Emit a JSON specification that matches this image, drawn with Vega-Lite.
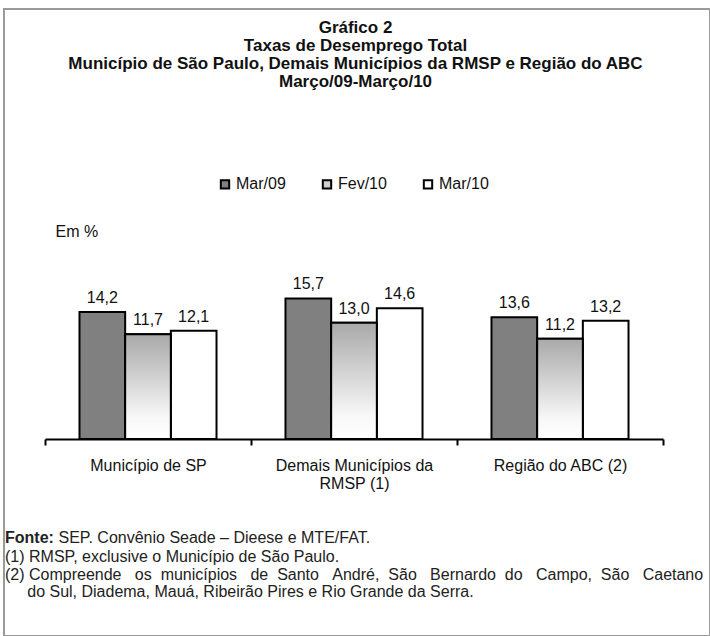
{
  "$schema": "https://vega.github.io/schema/vega-lite/v6.json",
  "width": 706,
  "height": 627,
  "autosize": "none",
  "padding": {"left": 4, "top": 9, "right": 0, "bottom": 0},
  "background": "white",
  "config": {
    "font": "Liberation Sans",
    "view": {"stroke": "#9a9a9a", "strokeWidth": 2},
    "locale": {"number": {"decimal": ",", "thousands": ".", "grouping": [3], "currency": ["R$", ""]}}
  },
  "title": {
    "text": ["Fonte:"],
    "subtitle": [
      "(1) RMSP, exclusive o Município de São Paulo.",
      "(2) Compreende \u00a0\u00a0os \u00a0municípios \u00a0\u00a0de \u00a0Santo \u00a0\u00a0André, \u00a0São \u00a0\u00a0Bernardo \u00a0do \u00a0\u00a0Campo, \u00a0São \u00a0\u00a0Caetano",
      "\u200b\u00a0\u00a0\u00a0\u00a0\u00a0do Sul, Diadema, Mauá, Ribeirão Pires e Rio Grande da Serra."
    ],
    "orient": "bottom",
    "anchor": "start",
    "frame": "group",
    "offset": -106,
    "dx": 1,
    "font": "Liberation Sans",
    "fontSize": 16,
    "fontWeight": "bold",
    "color": "#222222",
    "lineHeight": 17.5,
    "subtitleFont": "Liberation Sans",
    "subtitleFontSize": 16,
    "subtitleFontWeight": "normal",
    "subtitleColor": "#222222",
    "subtitleLineHeight": 17.5,
    "subtitlePadding": 3
  },
  "data": {
    "values": [
      {"regiao": "Município de SP", "periodo": "Mar/09", "taxa": 14.2},
      {"regiao": "Município de SP", "periodo": "Fev/10", "taxa": 11.7},
      {"regiao": "Município de SP", "periodo": "Mar/10", "taxa": 12.1},
      {"regiao": "Demais Municípios da RMSP (1)", "periodo": "Mar/09", "taxa": 15.7},
      {"regiao": "Demais Municípios da RMSP (1)", "periodo": "Fev/10", "taxa": 13.0},
      {"regiao": "Demais Municípios da RMSP (1)", "periodo": "Mar/10", "taxa": 14.6},
      {"regiao": "Região do ABC (2)", "periodo": "Mar/09", "taxa": 13.6},
      {"regiao": "Região do ABC (2)", "periodo": "Fev/10", "taxa": 11.2},
      {"regiao": "Região do ABC (2)", "periodo": "Mar/10", "taxa": 13.2}
    ]
  },
  "encoding": {
    "x": {
      "field": "regiao",
      "type": "nominal",
      "sort": null,
      "scale": {"range": [41, 659], "paddingInner": 0, "paddingOuter": 0},
      "axis": {
        "orient": "bottom",
        "offset": -197,
        "domainColor": "black",
        "domainWidth": 2,
        "tickBand": "extent",
        "tickColor": "black",
        "tickWidth": 2,
        "tickSize": 6,
        "labelAngle": 0,
        "labelFont": "Liberation Sans",
        "labelFontSize": 16,
        "labelColor": "#111111",
        "labelPadding": 12,
        "labelBaseline": "top",
        "labelLineHeight": 18,
        "labelExpr": "datum.value === 'Demais Municípios da RMSP (1)' ? ['Demais Municípios da', 'RMSP (1)'] : datum.label",
        "title": "Em %",
        "titleX": 51,
        "titleY": -208,
        "titleAlign": "left",
        "titleBaseline": "middle",
        "titleFont": "Liberation Sans",
        "titleFontSize": 16,
        "titleFontWeight": "normal",
        "titleColor": "#111111"
      }
    },
    "xOffset": {
      "field": "periodo",
      "type": "nominal",
      "sort": ["Mar/09", "Fev/10", "Mar/10"],
      "scale": {"domain": ["Mar/09", "Fev/10", "Mar/10"], "paddingInner": 0, "paddingOuter": 0.755}
    },
    "y": {
      "field": "taxa",
      "type": "quantitative",
      "scale": {"domain": [0, 20], "range": [430, 251]}
    }
  },
  "resolve": {"axis": {"y": "independent"}},
  "layer": [
    {
      "mark": {"type": "bar", "stroke": "black", "strokeWidth": 2},
      "encoding": {
        "y": {
          "field": "taxa",
          "type": "quantitative",
          "axis": {
            "orient": "left",
            "domain": false,
            "ticks": false,
            "labels": false,
            "grid": false,
            "title": ["Gráfico 2", "Taxas de Desemprego Total", "Município de São Paulo, Demais Municípios da RMSP e Região do ABC", "Março/09-Março/10"],
            "titleAngle": 0,
            "titleAlign": "center",
            "titleBaseline": "top",
            "titleX": 351,
            "titleY": 10,
            "titleFont": "Liberation Sans",
            "titleFontSize": 17,
            "titleFontWeight": "bold",
            "titleLineHeight": 18,
            "titleColor": "#111111"
          }
        },
        "fill": {
          "field": "periodo",
          "type": "nominal",
          "sort": ["Mar/09", "Fev/10", "Mar/10"],
          "scale": {
            "domain": ["Mar/09", "Fev/10", "Mar/10"],
            "range": ["#808080", "#cfcfcf", "#ffffff"]
          },
          "legend": {
            "orient": "none",
            "legendX": 213,
            "legendY": 167,
            "direction": "horizontal",
            "title": null,
            "padding": 0,
            "symbolType": "square",
            "symbolSize": 70,
            "symbolStrokeColor": "black",
            "symbolStrokeWidth": 2,
            "symbolOpacity": 1,
            "labelFont": "Liberation Sans",
            "labelFontSize": 16,
            "labelColor": "#111111",
            "labelOffset": 3,
            "columnPadding": 32
          }
        }
      }
    },
    {
      "transform": [{"filter": "datum.periodo === 'Fev/10'"}],
      "mark": {
        "type": "bar",
        "stroke": "black",
        "strokeWidth": 2,
        "fill": {"gradient": "linear", "x1": 0, "y1": 0, "x2": 0, "y2": 1, "stops": [{"offset": 0, "color": "#a9a9a9"}, {"offset": 0.8, "color": "#f8f8f8"}, {"offset": 1, "color": "#ffffff"}]}
      },
      "encoding": {
        "y": {"field": "taxa", "type": "quantitative", "axis": null}
      }
    },
    {
      "mark": {"type": "text", "baseline": "bottom", "dy": -6, "font": "Liberation Sans", "fontSize": 16, "color": "#111111"},
      "encoding": {
        "y": {
          "field": "taxa",
          "type": "quantitative",
          "axis": {
            "orient": "right",
            "domain": false,
            "ticks": false,
            "labels": false,
            "grid": false,
            "title": "SEP. Convênio Seade – Dieese e MTE/FAT.",
            "titleAngle": 0,
            "titleAlign": "left",
            "titleBaseline": "top",
            "titleX": -652,
            "titleY": 520,
            "titleFont": "Liberation Sans",
            "titleFontSize": 16,
            "titleFontWeight": "normal",
            "titleColor": "#222222"
          }
        },
        "text": {"field": "taxa", "type": "quantitative", "format": ".1f"}
      }
    }
  ]
}
